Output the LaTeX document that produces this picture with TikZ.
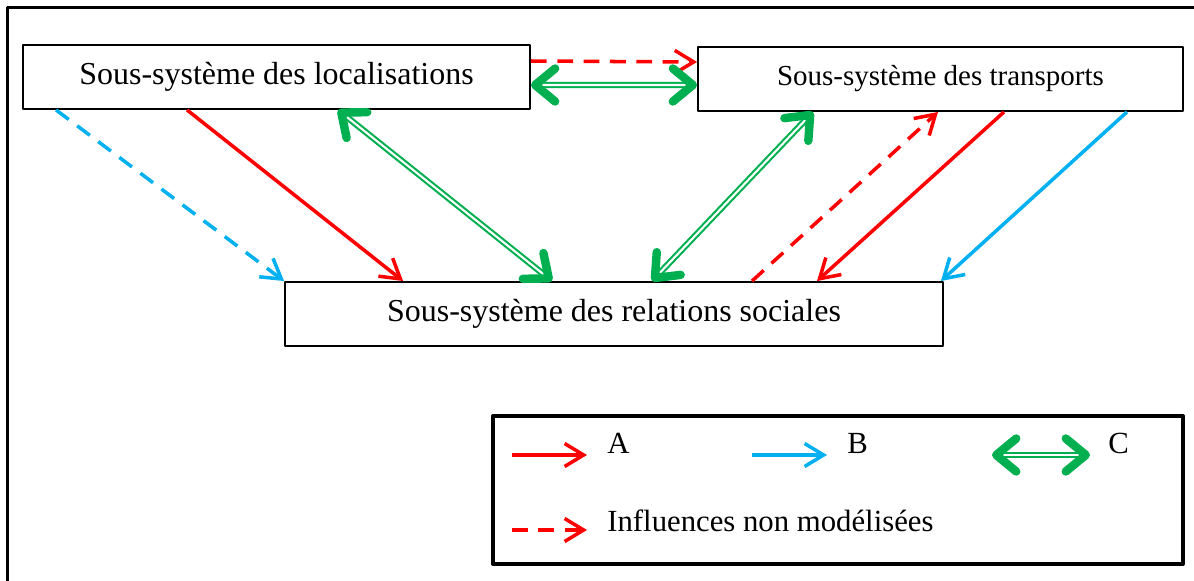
\documentclass[tikz,border=0pt]{standalone}
\usepackage{fontspec}
\setmainfont{Liberation Serif}
\usetikzlibrary{arrows.meta, calc}

\definecolor{redA}{RGB}{255,0,0}
\definecolor{blueB}{RGB}{0,176,240}
\definecolor{greenC}{RGB}{0,176,80}

\tikzset{
  sysbox/.style={draw=black, line width=1.1pt, minimum width=#1, minimum height=1.28cm, inner sep=0pt, font=\fontsize{18.2}{22}\selectfont},
  legbox/.style={draw=black, line width=2pt, minimum width=13.8cm, minimum height=2.96cm, inner sep=0pt},
  lgtext/.style={inner sep=0pt, font=\fontsize{17.5}{21}\selectfont},
  thin tip/.style={-{Straight Barb[length=0.38cm, width=0.46cm]}},
  linkA/.style={draw=redA, line width=2pt, thin tip},
  linkB/.style={draw=blueB, line width=2pt, thin tip},
  linkI/.style={draw=redA, line width=2pt, dash pattern=on 9pt off 6pt, thin tip},
  linkBI/.style={draw=blueB, line width=2pt, dash pattern=on 9pt off 6pt, thin tip},
  linkC/.style={draw=greenC, line width=1.2pt, double=white, double distance=1.2pt,
    {Straight Barb[length=0.4cm, width=0.66cm, line width=4.8pt, round]}-{Straight Barb[length=0.4cm, width=0.66cm, line width=4.8pt, round]}}
}

\begin{document}
\begin{tikzpicture}[line join=round, x=0.02cm, y=-0.02cm]
\useasboundingbox (0,0) rectangle (1194,581);
\clip (0,0) rectangle (1194,581);

\draw[line width=1.8pt] (7.5,7.5) rectangle (1220,620);

\node[sysbox=10.14cm] (loc) at (276.5,77) {Sous-système des localisations};
\node[sysbox=9.7cm, font=\fontsize{16.5}{20}\selectfont] (trans) at (940.5,79) {Sous-système des transports};
\node[sysbox=13.16cm] (rel) at (614,314) {Sous-système des relations sociales};

\draw[linkI] ([yshift=0.32cm]loc.east) -- ([yshift=0.34cm]trans.west);
\draw[linkC] ([yshift=-0.16cm]loc.east) -- ([yshift=-0.12cm]trans.west);

\draw[linkBI] ([xshift=0.68cm]loc.south west) -- (rel.north west);
\draw[linkA] ([xshift=3.3cm]loc.south west) -- ([xshift=2.38cm]rel.north west);
\draw[linkC] ([xshift=6.32cm]loc.south west) -- ([xshift=5.36cm]rel.north west);

\draw[linkC] ([xshift=2.32cm]trans.south west) -- ([xshift=7.36cm]rel.north west);
\draw[linkI] ([xshift=9.36cm]rel.north west) -- ([xshift=4.82cm]trans.south west);
\draw[linkA] ([xshift=6.14cm]trans.south west) -- ([xshift=10.66cm]rel.north west);
\draw[linkB] ([xshift=8.6cm]trans.south west) -- ([xshift=-0.06cm]rel.north east);

\node[legbox] (leg) at (838,490) {};

\coordinate (a1) at (512,455);
\coordinate (a2) at (587,455);
\coordinate (b1) at (752,455);
\coordinate (b2) at (827,455);
\coordinate (c1) at (992,455);
\coordinate (c2) at (1090,455);
\coordinate (d1) at (512,530);
\coordinate (d2) at (587,530);

\draw[linkA] (a1) -- (a2);
\draw[linkB] (b1) -- (b2);
\draw[linkC] (c1) -- (c2);
\draw[linkI] (d1) -- (d2);

\node[lgtext, anchor=base west] (tA) at (607,453) {A};
\node[lgtext, anchor=base west] (tB) at (847,453) {B};
\node[lgtext, anchor=base west] (tC) at (1108,453) {C};
\node[lgtext, anchor=base west] (tI) at (607,531) {Influences non modélisées};

\end{tikzpicture}
\end{document}
